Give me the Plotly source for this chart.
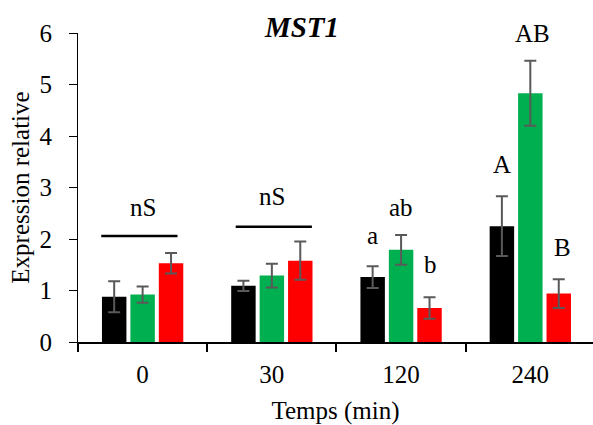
import plotly.graph_objects as go

categories = ["0", "30", "120", "240"]
series_names = ["Noir", "Vert", "Rouge"]
black_vals = [0.88, 1.09, 1.26, 2.25]
black_err = [0.30, 0.10, 0.21, 0.58]
green_vals = [0.92, 1.29, 1.79, 4.83]
green_err = [0.16, 0.23, 0.29, 0.63]
red_vals = [1.53, 1.58, 0.66, 0.94]
red_err = [0.20, 0.37, 0.21, 0.28]
colors = ["#000000", "#00B050", "#FF0000"]

# significance letters: (category index offset, y value, text)
sig_x = [0.0, 1.0, 1.78, 2.0, 2.23, 2.78, 3.02, 3.25]
sig_y = [2.62, 2.82, 2.06, 2.62, 1.50, 3.44, 6.0, 1.83]
sig_text = ["nS", "nS", "a", "ab", "b", "A", "AB", "B"]
# nS bars: (x0, x1, y)
ns_x0 = [-0.32, 0.72]
ns_x1 = [0.27, 1.31]
ns_y = [2.06, 2.24]

font_family = "Liberation Serif"

fig = go.Figure()
for name, vals, errs, col in zip(series_names,
                                 [black_vals, green_vals, red_vals],
                                 [black_err, green_err, red_err], colors):
    fig.add_trace(go.Bar(
        x=categories, y=vals, name=name, marker_color=col,
        marker_line_width=0,
        error_y=dict(type="data", array=errs, color="#595959",
                     thickness=2, width=6),
    ))

for x, y, t in zip(sig_x, sig_y, sig_text):
    fig.add_annotation(x=x, y=y, xref="x", yref="y", text=t,
                       showarrow=False, yanchor="middle",
                       font=dict(family=font_family, size=25, color="black"))

for x0, x1, y in zip(ns_x0, ns_x1, ns_y):
    fig.add_shape(type="line", xref="x", yref="y", x0=x0, x1=x1, y0=y, y1=y,
                  line=dict(color="black", width=2.5))

fig.update_layout(
    width=593, height=425,
    margin=dict(l=78, r=0, t=33, b=83, autoexpand=False),
    paper_bgcolor="white", plot_bgcolor="white",
    showlegend=False,
    barmode="group", bargap=0.34, bargroupgap=0.14,
    font=dict(family=font_family, size=25, color="black"),
    title=dict(text="<b><i>MST1</i></b>", x=302 / 593, xref="container",
               xanchor="center", y=1 - 27 / 425, yref="container",
               yanchor="middle", font=dict(family=font_family, size=29)),
)
fig.update_xaxes(
    type="category", range=[-0.5, 3.485], automargin=False,
    showline=True, linecolor="black", linewidth=2,
    ticks="outside", tickson="boundaries", ticklen=8, tickcolor="black",
    tickwidth=1.5, ticklabelstandoff=9,
    showgrid=False, zeroline=False,
    title=dict(text="Temps (min)", standoff=14,
               font=dict(family=font_family, size=25)),
    tickfont=dict(family=font_family, size=25),
)
fig.update_yaxes(
    range=[0, 6], dtick=1, automargin=False,
    showline=True, linecolor="black", linewidth=1.2,
    ticks="outside", ticklen=8, tickcolor="black", tickwidth=1.2,
    ticklabelstandoff=12,
    showgrid=False, zeroline=False,
    title=dict(text="Expression relative", standoff=2,
               font=dict(family=font_family, size=25)),
    tickfont=dict(family=font_family, size=25),
)

fig.write_html("out.html",
               config={"displayModeBar": False},
               post_script="document.body.style.margin='0';"
                           "document.body.style.overflow='hidden';")
